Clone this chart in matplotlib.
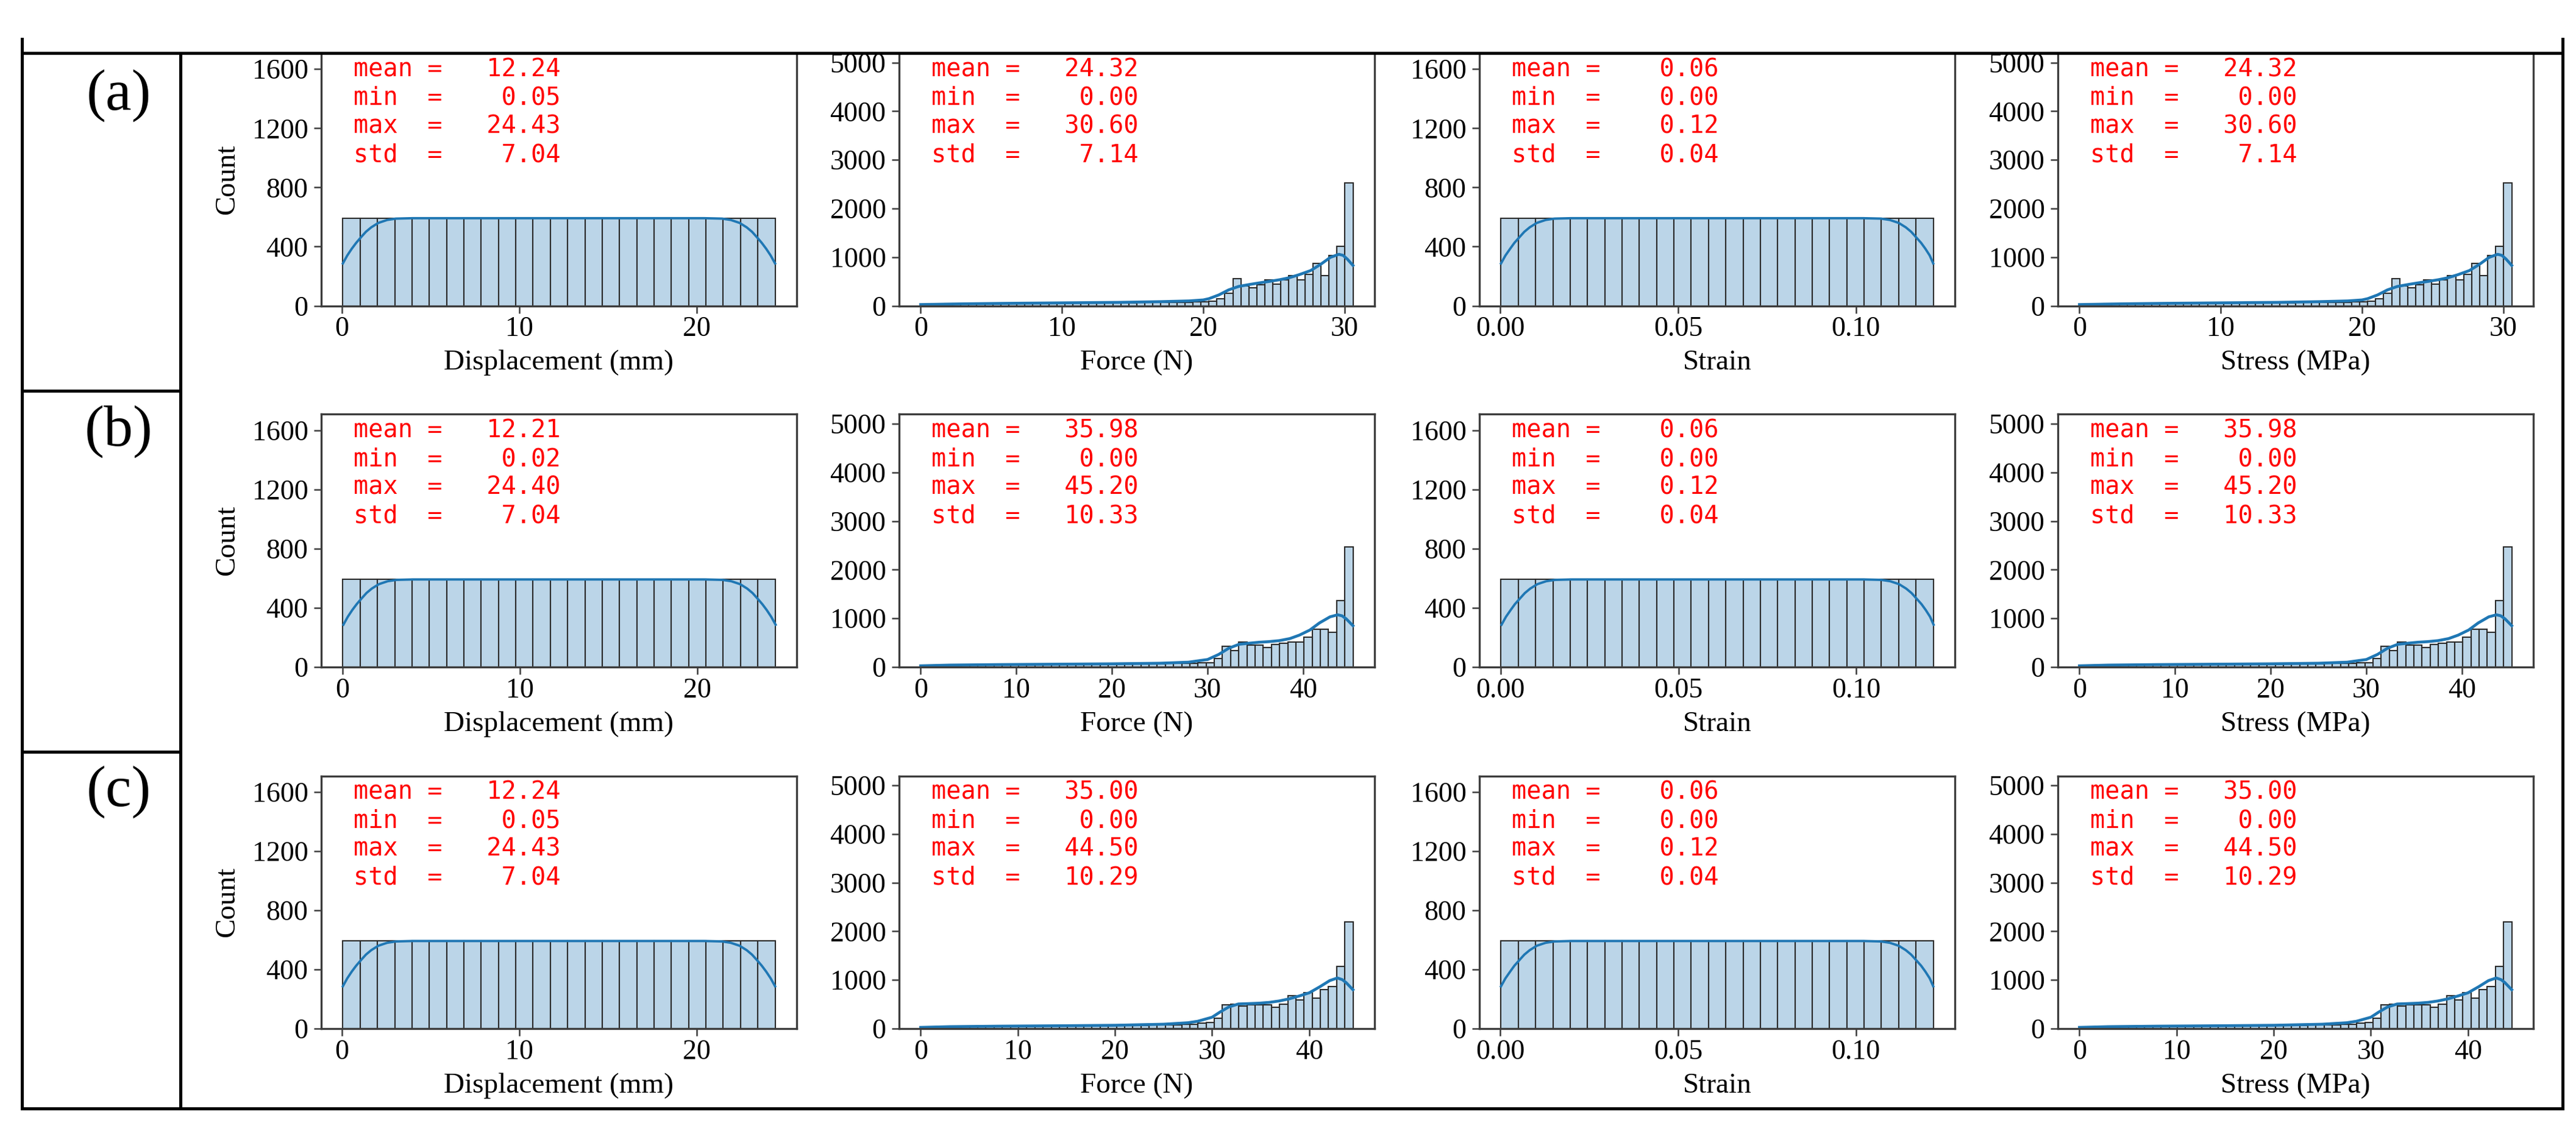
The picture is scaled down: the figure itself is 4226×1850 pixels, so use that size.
import numpy as np
import matplotlib.pyplot as plt
from matplotlib.lines import Line2D

plt.rcParams['font.family'] = ['Liberation Serif', 'DejaVu Serif']

# ---------------- data ----------------
row_labels = ['(a)', '(b)', '(c)']
x_labels = ['Displacement (mm)', 'Force (N)', 'Strain', 'Stress (MPa)']

# data ranges (bin edges run from min to max)
disp_range = [(0.05, 24.43), (0.02, 24.40), (0.05, 24.43)]
strain_range = [(0.00025, 0.1217), (0.0001, 0.1216), (0.00025, 0.1217)]
force_range = [(0.0, 30.60), (0.0, 45.20), (0.0, 44.50)]

# displacement / strain: 25 bins, flat
disp_counts = [592, 592, 592, 592, 592, 592, 592, 592, 592, 592, 592, 592, 592,
               592, 592, 592, 592, 592, 592, 592, 592, 592, 592, 592, 592]

disp_kde_x = [0.05, 0.3, 0.55, 0.8, 1.05, 1.35, 1.65, 2.05, 2.55, 3.05, 4.0, 12.24,
              20.43, 21.43, 21.93, 22.43, 22.83, 23.13, 23.43, 23.68, 23.93, 24.18, 24.43]
disp_kde_y = [286, 340, 385, 425, 460, 500, 530, 560, 580, 589, 592, 592,
              592, 589, 580, 560, 530, 500, 460, 425, 385, 340, 286]
strain_kde_x = [0.00025, 0.0015, 0.0028, 0.004, 0.0053, 0.0068, 0.0083, 0.0103, 0.0128,
                0.0153, 0.02, 0.061, 0.102, 0.107, 0.1095, 0.112, 0.114, 0.1155, 0.117,
                0.1183, 0.1195, 0.1207, 0.1217]

# force / stress histograms (same values in both columns)
force_counts_a = [15, 30, 35, 38, 40, 40, 42, 42, 44, 45, 45, 46, 47, 48, 48, 50, 50, 52,
                  52, 54, 55, 56, 57, 58, 60, 60, 62, 63, 65, 66, 68, 70, 72, 75, 78,
                  85, 96, 138, 263, 556, 410, 368, 430, 535, 451, 535, 619, 535, 640,
                  870, 619, 1037, 1225, 2520]
force_counts_b = [15, 28, 32, 35, 38, 40, 40, 42, 43, 44, 45, 46, 47, 48, 49, 50, 50, 52,
                  53, 54, 55, 56, 57, 58, 60, 61, 62, 64, 66, 68, 70, 72, 75, 78, 82,
                  92, 176, 426, 343, 510, 447, 447, 405, 468, 489, 510, 510, 614, 782,
                  782, 719, 1367, 2475]
force_counts_c = [15, 28, 32, 35, 38, 40, 41, 42, 43, 44, 45, 46, 47, 48, 50, 51, 52, 53,
                  54, 55, 56, 58, 60, 61, 62, 64, 66, 68, 70, 72, 75, 78, 82,
                  88, 109, 130, 213, 485, 506, 464, 485, 485, 485, 443, 506, 673, 589,
                  736, 631, 798, 861, 1279, 2199]

force_kde_x_a = [0, 3, 6, 10, 14, 17, 19, 20, 20.4, 21.1, 21.8, 22.5, 23.3, 24.0, 24.7,
                 25.4, 26.1, 26.8, 27.6, 28.3, 29.0, 29.6, 29.9, 30.2, 30.6]
force_kde_y_a = [25, 40, 50, 60, 70, 85, 100, 120, 146, 222, 326, 397, 439, 472, 502,
                 535, 577, 640, 723, 849, 995, 1058, 1037, 960, 830]
force_kde_x_b = [0, 3, 8, 14, 20, 25, 28, 30, 31.16, 32.2, 33.3, 34.3, 35.4, 36.4, 37.5,
                 38.6, 39.6, 40.7, 41.7, 42.8, 43.6, 44.06, 44.5, 45.2]
force_kde_y_b = [25, 40, 50, 58, 66, 78, 100, 155, 259, 385, 468, 489, 510, 522, 543,
                 585, 656, 761, 907, 1032, 1074, 1053, 990, 850]
force_kde_x_c = [0, 3, 8, 14, 20, 25, 27.5, 28.5, 30, 30.8, 31.7, 32.7, 33.8, 34.8, 35.9,
                 36.9, 37.9, 39.0, 40.0, 41.1, 42.1, 42.9, 43.4, 43.8, 44.5]
force_kde_y_c = [25, 40, 50, 58, 68, 90, 120, 150, 234, 339, 443, 506, 514, 522, 539,
                 568, 610, 673, 736, 861, 986, 1041, 1007, 945, 800]

force_counts = [force_counts_a, force_counts_b, force_counts_c]
force_kde_x = [force_kde_x_a, force_kde_x_b, force_kde_x_c]
force_kde_y = [force_kde_y_a, force_kde_y_b, force_kde_y_c]

# stats boxes: mean, min, max, std
disp_stats = [(12.24, 0.05, 24.43, 7.04), (12.21, 0.02, 24.40, 7.04), (12.24, 0.05, 24.43, 7.04)]
force_stats = [(24.32, 0.00, 30.60, 7.14), (35.98, 0.00, 45.20, 10.33), (35.00, 0.00, 44.50, 10.29)]
strain_stats = [(0.06, 0.00, 0.12, 0.04), (0.06, 0.00, 0.12, 0.04), (0.06, 0.00, 0.12, 0.04)]
stat_names = ['mean', 'min', 'max', 'std']

count_ticks_small = [0, 400, 800, 1200, 1600]
count_ticks_big = [0, 1000, 2000, 3000, 4000, 5000]
ytop_small = 1708
ytop_big = 5195

# ---------------- layout (pixels) ----------------
W, H = 4226, 1850
ax_left = [527, 1475, 2427, 3376]
ax_w = 780
ax_top = [87, 679.5, 1272.5]
ax_h = 414.5

BAR_FACE = (0.122, 0.467, 0.706, 0.3)
BAR_EDGE = '#2b2b2b'
LINE = '#1f77b4'
SPINE = '#3d3d3d'

fig = plt.figure(figsize=(W / 100, H / 100), dpi=100)


def draw_hist(ax, lo, hi, counts, kx, ky, ytop, yticks, xticks, xticklabels, stats, lw):
    edges = np.linspace(lo, hi, len(counts) + 1)
    ax.bar(edges[:-1], counts, width=np.diff(edges), align='edge',
           facecolor=BAR_FACE, edgecolor=BAR_EDGE, linewidth=1.5)
    ax.plot(kx, ky, color=LINE, lw=lw)
    pad = 0.05 * (hi - lo)
    ax.set_xlim(lo - pad, hi + pad)
    ax.set_ylim(0, ytop)
    ax.set_yticks(yticks)
    ax.set_xticks(xticks)
    ax.set_xticklabels(xticklabels)
    for s in ax.spines.values():
        s.set_color(SPINE)
        s.set_linewidth(2.4)
    ax.tick_params(axis='both', labelsize=33, length=8.5, width=1.8, color=SPINE)
    ax.tick_params(axis='x', pad=4)
    ax.tick_params(axis='y', pad=7)
    for i, (n, v) in enumerate(zip(stat_names, stats)):
        ax.text(0.068, 1 - (38 + i * 46.7) / ax_h, f'{n:<4} = {v:7.2f}',
                transform=ax.transAxes, family='DejaVu Sans Mono', fontsize=29,
                color='red', va='baseline', ha='left')


for r in range(3):
    axes = []
    for c in range(4):
        ax = fig.add_axes([ax_left[c] / W, 1 - (ax_top[r] + ax_h) / H, ax_w / W, ax_h / H])
        axes.append(ax)
    lo, hi = disp_range[r]
    draw_hist(axes[0], lo, hi, disp_counts, disp_kde_x, disp_kde_y, ytop_small,
              count_ticks_small, [0, 10, 20], ['0', '10', '20'], disp_stats[r], 2.8)
    lo, hi = force_range[r]
    fticks = [0, 10, 20, 30] if hi < 35 else [0, 10, 20, 30, 40]
    draw_hist(axes[1], lo, hi, force_counts[r], force_kde_x[r], force_kde_y[r], ytop_big,
              count_ticks_big, fticks, [str(t) for t in fticks], force_stats[r], 3.4)
    lo, hi = strain_range[r]
    draw_hist(axes[2], lo, hi, disp_counts, strain_kde_x, disp_kde_y, ytop_small,
              count_ticks_small, [0.0, 0.05, 0.10], ['0.00', '0.05', '0.10'], strain_stats[r], 2.8)
    lo, hi = force_range[r]
    draw_hist(axes[3], lo, hi, force_counts[r], force_kde_x[r], force_kde_y[r], ytop_big,
              count_ticks_big, fticks, [str(t) for t in fticks], force_stats[r], 3.4)
    for c, ax in enumerate(axes):
        ax.set_xlabel(x_labels[c], fontsize=34, labelpad=9)
    axes[0].set_ylabel('Count', fontsize=34, labelpad=14)

# ---------------- table frame ----------------
def hline(y, x0, x1):
    fig.add_artist(Line2D([x0 / W, x1 / W], [1 - y / H, 1 - y / H], transform=fig.transFigure,
                          color='black', lw=3.6, zorder=20, solid_capstyle='projecting'))


def vline(x, y0, y1):
    fig.add_artist(Line2D([x / W, x / W], [1 - y0 / H, 1 - y1 / H], transform=fig.transFigure,
                          color='black', lw=3.6, zorder=20, solid_capstyle='projecting'))


hline(87, 36, 4204)
hline(1818, 36, 4204)
hline(641, 36, 296)
hline(1233, 36, 296)
vline(36, 64, 1818)
vline(296, 87, 1818)
vline(4204, 64, 1818)

label_y = [157, 708, 1299]
for lab, y in zip(row_labels, label_y):
    fig.text(195 / W, 1 - y / H, lab, ha='center', va='center', fontsize=69)

fig.savefig('out.png', dpi=100)
